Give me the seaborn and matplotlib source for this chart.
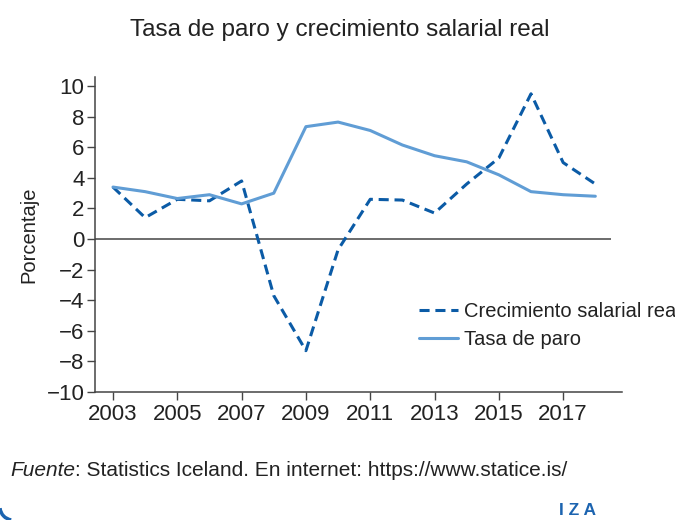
import pandas as pd
import numpy as np
import matplotlib
matplotlib.use("Agg")
import matplotlib.pyplot as plt
import seaborn as sns
from matplotlib.patches import Arc

# ---- data ----
years = list(range(2003, 2019))
wage_growth = [3.4, 1.4, 2.6, 2.5, 3.8, -3.7, -7.3, -0.7, 2.6, 2.55, 1.7,
               3.6, 5.3, 9.5, 5.0, 3.6]
unemployment = [3.4, 3.1, 2.65, 2.9, 2.3, 3.0, 7.35, 7.65, 7.1, 6.15, 5.45,
                5.05, 4.2, 3.1, 2.9, 2.8]
series_names = ["Crecimiento salarial real", "Tasa de paro"]
x_ticks = list(range(2003, 2019, 2))
y_ticks = list(range(-10, 11, 2))

df = pd.DataFrame({
    "Año": years * 2,
    "Valor": wage_growth + unemployment,
    "Serie": [series_names[0]] * len(years) + [series_names[1]] * len(years),
})

sns.set_style("ticks")
plt.rcParams["font.family"] = ["Liberation Sans", "DejaVu Sans"]
text_col = "#222222"

fig = plt.figure(figsize=(6.75, 5.2), dpi=100)
ax = fig.add_axes([0.1407, 0.2462, 0.7808, 0.6058])

palette = {series_names[0]: "#0b5ba6", series_names[1]: "#609dd5"}
dashes = {series_names[0]: (3.3, 1.9), series_names[1]: ""}
sns.lineplot(data=df, x="Año", y="Valor", hue="Serie", style="Serie",
             palette=palette, dashes=dashes, linewidth=2.2, ax=ax)

ax.hlines(0, 2002.44, 2018.5, color="#444444", linewidth=1.1, zorder=1)

ax.set_xlim(2002.44, 2018.83)
ax.set_ylim(-10, 10.6)
ax.set_xticks(x_ticks)
ax.set_yticks(y_ticks)
ax.set_yticklabels([str(v).replace("-", "\u2212") for v in y_ticks])
ax.tick_params(axis="both", direction="out", length=6, width=1,
               color="#444444", labelsize=16, labelcolor=text_col)
ax.tick_params(axis="y", pad=1.5)
ax.tick_params(axis="x", pad=3)
for s in ["top", "right"]:
    ax.spines[s].set_visible(False)
for s in ["left", "bottom"]:
    ax.spines[s].set_color("#444444")
    ax.spines[s].set_linewidth(1.1)

ax.set_xlabel("")
ax.set_ylabel("Porcentaje", fontsize=14.5, color=text_col, labelpad=6)

leg = ax.legend(loc="upper left", bbox_to_anchor=(0.6, 0.31), frameon=False,
                fontsize=14.5, handlelength=1.9, handletextpad=0.3,
                labelspacing=0.45, borderaxespad=0)
for t in leg.get_texts():
    t.set_color(text_col)

fig.text(0.503, 0.942, "Tasa de paro y crecimiento salarial real",
         ha="center", va="center", fontsize=17.5, color=text_col)

src = fig.text(0.015, 0.085, "Fuente", fontsize=15, style="italic",
               color=text_col, va="baseline", ha="left")
fig.add_artist(plt.Annotation(": Statistics Iceland. En internet: https://www.statice.is/",
                              xy=(1, 0), xycoords=src, va="bottom", ha="left",
                              fontsize=15, color=text_col))

fig.text(0.855, 0.018, "I Z A", fontsize=12.5, fontweight="bold",
         color="#1c64b0", va="center", ha="center")

# rounded frame corner peeking in at the bottom left
fig.add_artist(Arc((13, 13), 26, 26, theta1=185, theta2=262,
                   transform=None, color="#1c64b0", linewidth=2.5))

fig.savefig("out.png", dpi=100)
